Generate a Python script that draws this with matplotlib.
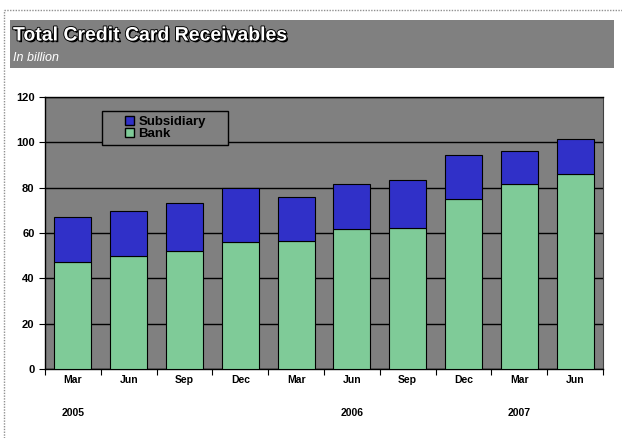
import matplotlib
matplotlib.use("Agg")
from matplotlib import pyplot as plt
from matplotlib.lines import Line2D
from matplotlib.patches import Rectangle, Patch
import matplotlib.patheffects as pe

plt.rcParams['font.family'] = ['Liberation Sans', 'DejaVu Sans']

# receivables per quarter, in billion
meses = ['Mar', 'Jun', 'Sep', 'Dec', 'Mar', 'Jun', 'Sep', 'Dec', 'Mar', 'Jun']
anos = ['2005', '', '', '', '', '2006', '', '', '2007', '']
banco = [47.3, 49.7, 51.9, 56.2, 56.5, 61.9, 62.0, 75.0, 81.5, 86.2]
subsidiaria = [19.6, 20.1, 21.2, 23.5, 19.5, 19.7, 21.4, 19.3, 14.8, 15.4]

cor_banco = '#7fcb98'
cor_subs = '#3030c8'
cinza = '#808080'

W, H = 622, 438
fig = plt.figure(figsize=(W / 100, H / 100), dpi=100)

# moldura pontilhada
fig.add_artist(Line2D([4 / W, 4 / W], [0, 1 - 10 / H], transform=fig.transFigure,
                      color='#909090', lw=1, ls=(0, (1, 1))))
fig.add_artist(Line2D([4 / W, 1], [1 - 10 / H, 1 - 10 / H], transform=fig.transFigure,
                      color='#909090', lw=1, ls=(0, (1, 1))))

# faixa do titulo
fig.add_artist(Rectangle((10 / W, 1 - 68 / H), 604 / W, 48 / H,
                         transform=fig.transFigure, color=cinza, lw=0))
fig.text(13 / W, 1 - 36 / H, 'Total Credit Card Receivables', color='white',
         fontsize=14, fontweight='bold', va='center',
         path_effects=[pe.withSimplePatchShadow(offset=(1.2, -1.2), shadow_rgbFace='black', alpha=1),
                       pe.withStroke(linewidth=1.3, foreground='black')])
fig.text(13 / W, 1 - 58 / H, 'In billion', color='white', fontsize=9,
         fontstyle='italic', va='center')

ax = fig.add_axes([45 / W, 1 - 369 / H, 558 / W, 272 / H])
ax.set_facecolor(cinza)

x = list(range(len(meses)))
ax.bar(x, banco, width=0.66, color=cor_banco, edgecolor='black', lw=0.8,
       zorder=3)
ax.bar(x, subsidiaria, bottom=banco, width=0.66, color=cor_subs,
       edgecolor='black', lw=0.8, zorder=3)

ax.set_xlim(-0.5, len(meses) - 0.5)
ax.set_ylim(0, 120)
ax.set_yticks(range(0, 121, 20))
ax.yaxis.grid(True, color='black', lw=1, zorder=0)
ax.set_axisbelow(True)

ax.set_xticks([i - 0.5 for i in range(len(meses) + 1)])
ax.set_xticklabels([])
ax.tick_params(axis='x', length=4, width=0.8, direction='out')
ax.tick_params(axis='y', length=4, width=0.8, direction='out', labelsize=8)
for t in ax.get_yticklabels():
    t.set_fontweight('bold')

for s in ['left', 'bottom', 'top']:
    ax.spines[s].set_color('black')
    ax.spines[s].set_linewidth(1)
ax.spines['right'].set_color('#404040')

for i in x:
    ax.text(i, -0.042, meses[i], transform=ax.get_xaxis_transform(),
            ha='center', va='center', fontsize=7.5, fontweight='bold')
    if anos[i]:
        ax.text(i, -0.16, anos[i], transform=ax.get_xaxis_transform(),
                ha='center', va='center', fontsize=7.5, fontweight='bold')

# caixa da legenda
ax.add_patch(Rectangle((57 / 558, 1 - 48 / 272), 126 / 558, 34 / 272,
                       transform=ax.transAxes, facecolor=cinza,
                       edgecolor='black', lw=1, zorder=4))
handles = [Patch(facecolor=cor_subs, edgecolor='black', label='Subsidiary'),
           Patch(facecolor=cor_banco, edgecolor='black', label='Bank')]
leg = ax.legend(handles=handles, loc='upper left',
                bbox_to_anchor=(80 / 558, 1 - 19 / 272),
                frameon=False, prop={'weight': 'bold', 'size': 9.5},
                handlelength=0.7, handleheight=0.7, handletextpad=0.3,
                labelspacing=0.0, borderpad=0, borderaxespad=0)
leg.set_zorder(5)

fig.savefig('out.png', dpi=100, facecolor='white')
